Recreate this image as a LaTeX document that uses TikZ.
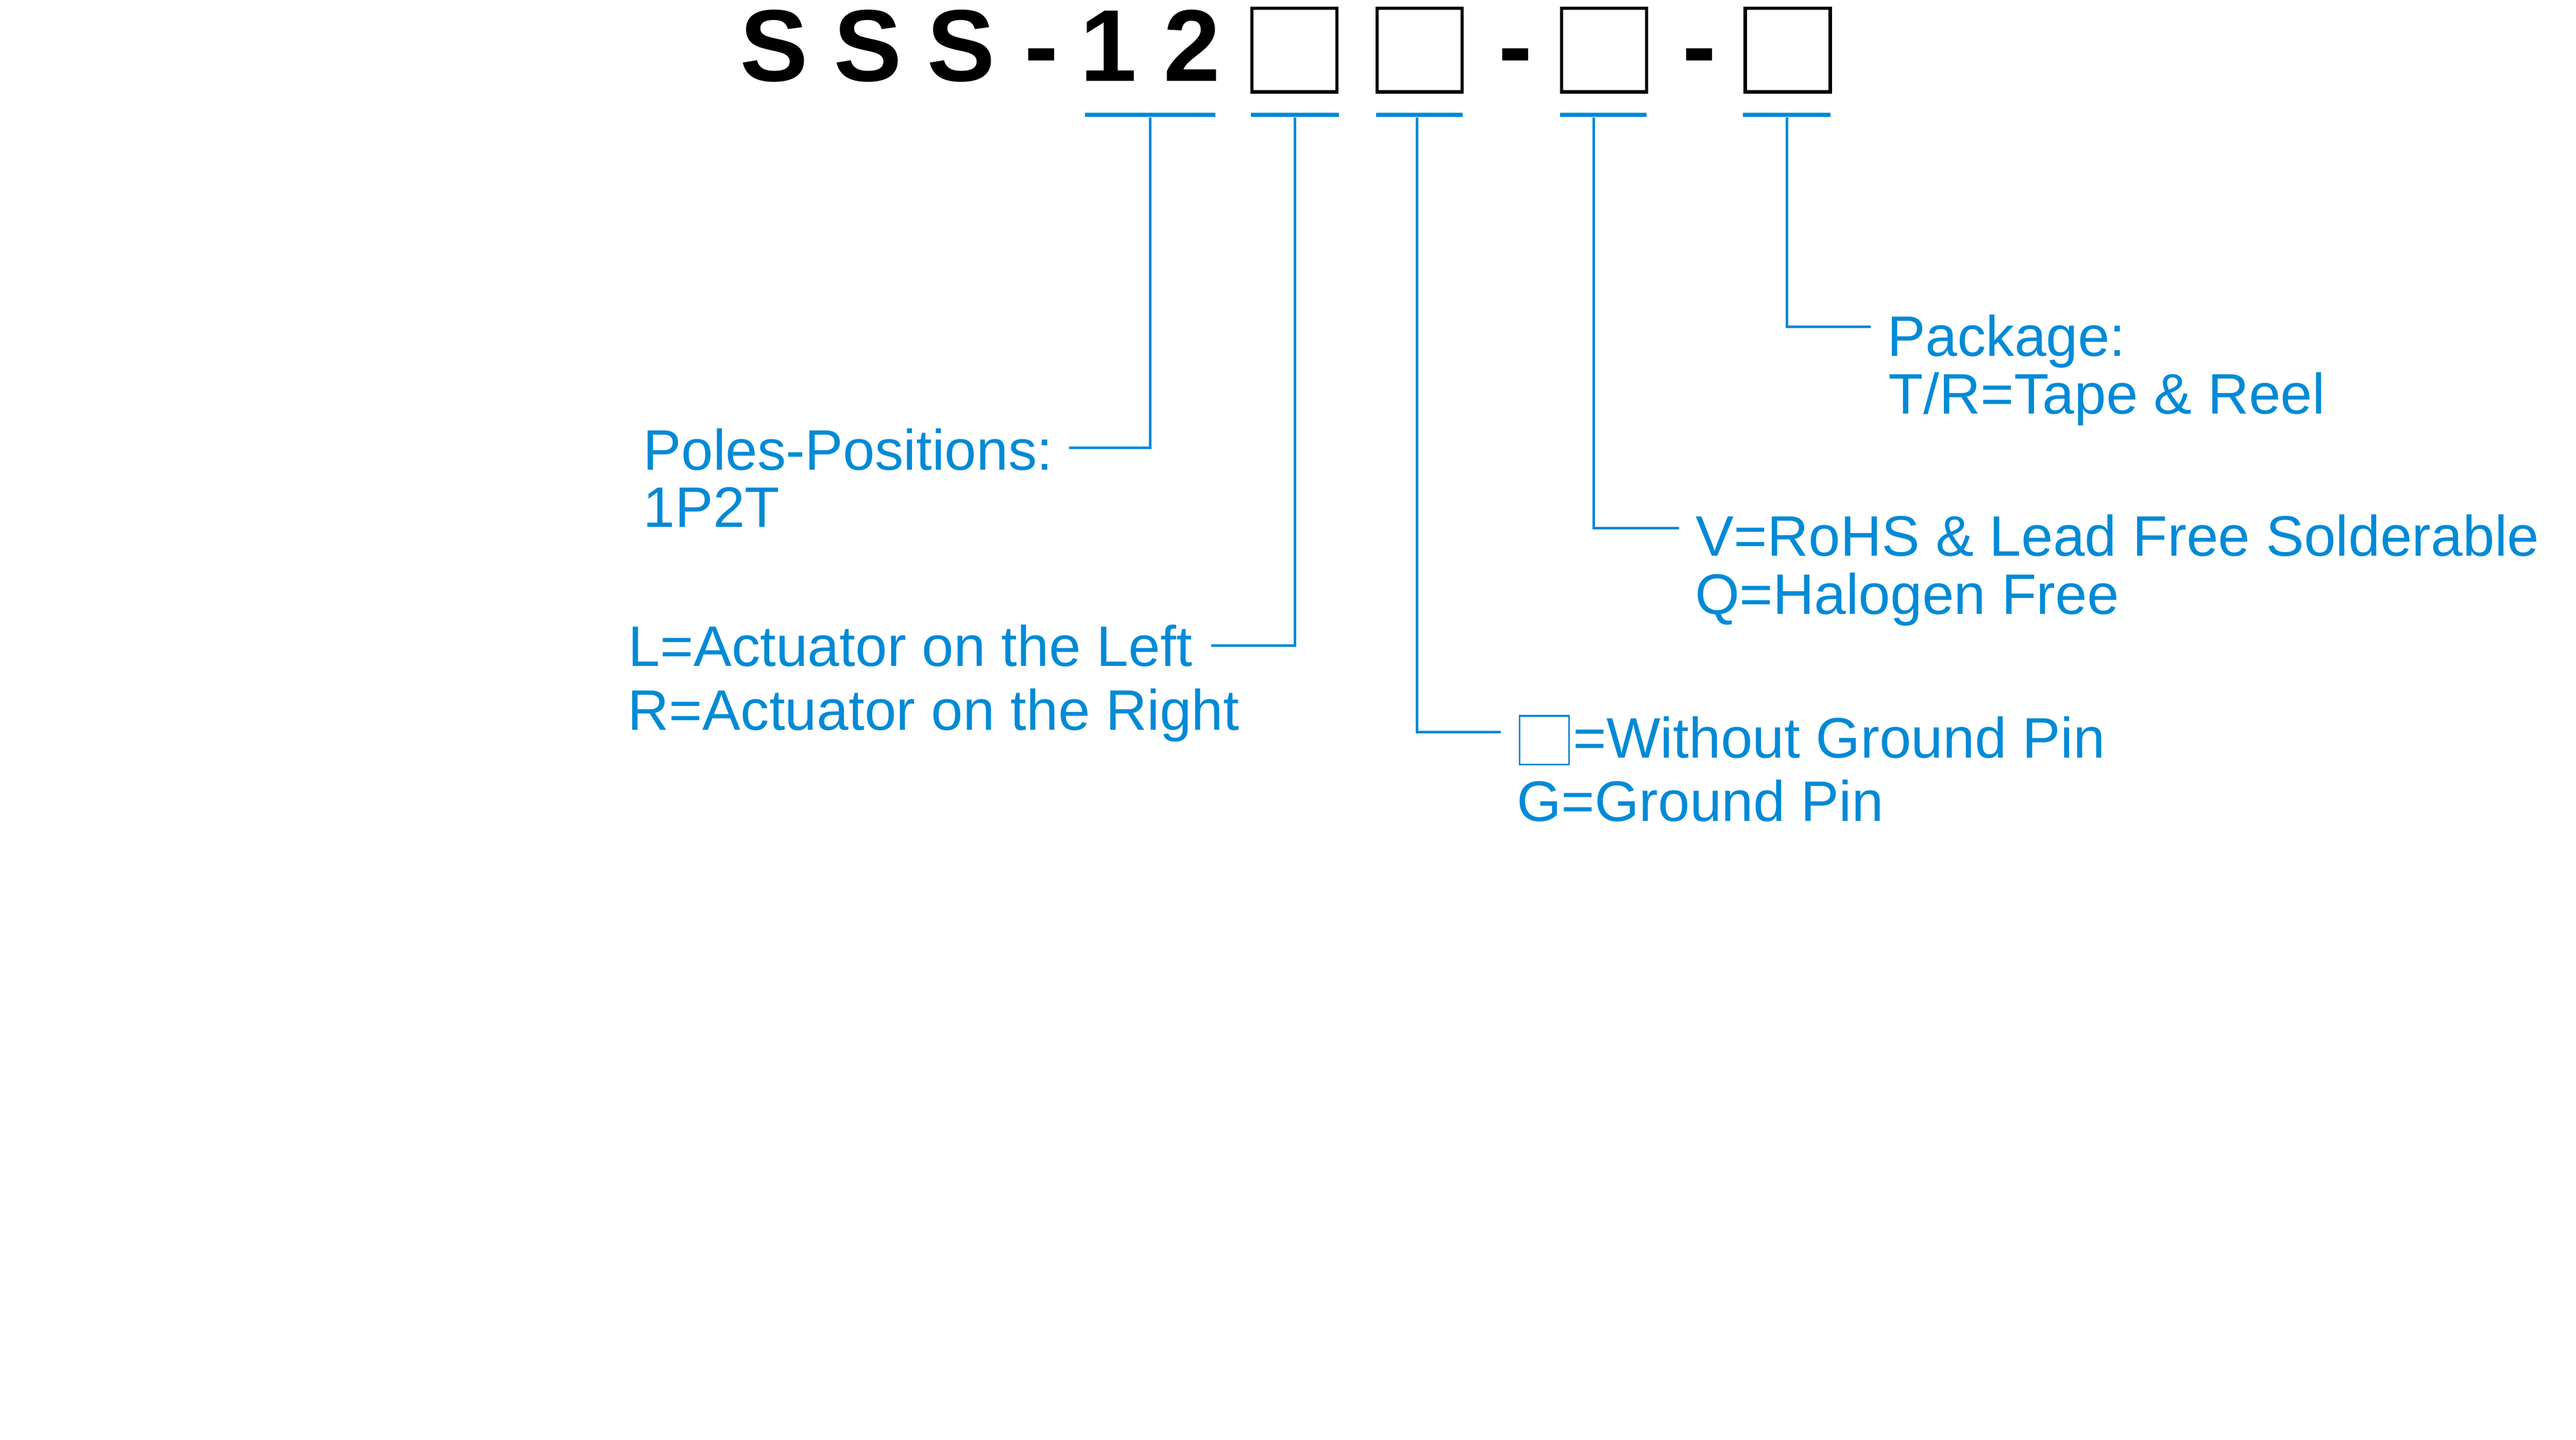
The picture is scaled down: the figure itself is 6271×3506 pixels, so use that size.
\documentclass[tikz,border=0pt]{standalone}
\usepackage{fontspec}
\usepackage{xcolor}
\usepackage{tikz}
\setmainfont{Liberation Sans}
\definecolor{pnblue}{RGB}{0,138,214}
\newcommand{\lblsize}{\fontsize{39.55pt}{39.55pt}\selectfont}
\newcommand{\ttlsize}{\fontsize{70.7pt}{70.7pt}\selectfont\bfseries}

\begin{document}
\begin{tikzpicture}[x=0.01cm,y=-0.01cm,
        ttl/.style={anchor=base, inner sep=0, font=\ttlsize},
        slot/.style={draw=black, line width=0.08cm, inner sep=0, minimum width=2.07cm, minimum height=2.04cm},
        uline/.style={fill=pnblue, inner sep=0, minimum height=0.1cm},
        lbl/.style={anchor=base west, inner sep=0, text=pnblue, font=\lblsize},
        conn/.style={draw=pnblue, line width=0.065cm}]
        \useasboundingbox (0,0) rectangle (6271,3506);
        \fill[white] (0,0) rectangle (6271,3506);

        % part number
        \node[ttl] (s1) at (1885,198) {S};
        \node[ttl] (s2) at (2113,198) {S};
        \node[ttl] (s3) at (2340,198) {S};
        \node[ttl] (dash1) at (2535,198) {-};
        \node[ttl] (one) at (2699,198) {1};
        \node[ttl] (two) at (2902,198) {2};
        \node[slot] (box1) at (3151,122) {};
        \node[slot] (box2) at (3456,122) {};
        \node[ttl] (dash2) at (3689,198) {-};
        \node[slot] (box3) at (3905,122) {};
        \node[ttl] (dash3) at (4137,198) {-};
        \node[slot] (box4) at (4352,122) {};

        % underlines
        \node[uline, minimum width=3.17cm] (u12) at (2800,280) {};
        \node[uline, minimum width=2.14cm] (u1) at (3152,280) {};
        \node[uline, minimum width=2.10cm] (u2) at (3455,280) {};
        \node[uline, minimum width=2.10cm] (u3) at (3903,280) {};
        \node[uline, minimum width=2.13cm] (u4) at (4350,280) {};

        % labels
        \node[lbl] (poles1) at (1565,1145) {Poles-Positions:};
        \node[lbl] (poles2) at (1565,1284) {1P2T};
        \node[lbl] (act1) at (1529,1622) {L=Actuator on the Left};
        \node[lbl] (act2) at (1528,1778) {R=Actuator on the Right};
        \node[draw=pnblue, line width=0.045cm, inner sep=0, minimum width=1.2cm, minimum height=1.19cm] (gnd0) at (3759.5,1802.5) {};
        \node[lbl] (gnd1) at (3829,1846) {=Without Ground Pin};
        \node[lbl] (gnd2) at (3692,2000) {G=Ground Pin};
        \node[lbl] (rohs1) at (4128,1354) {V=RoHS \& Lead Free Solderable};
        \node[lbl] (rohs2) at (4126,1495) {Q=Halogen Free};
        \node[lbl] (pkg1) at (4594,867) {Package:};
        \node[lbl] (pkg2) at (4597,1008) {T/R=Tape \& Reel};

        % connectors
        \coordinate (poles-end) at (2603,1091);
        \coordinate (act-end) at (2949,1572);
        \coordinate (gnd-end) at (3653,1783);
        \coordinate (rohs-end) at (4087,1286);
        \coordinate (pkg-end) at (4554,796);
        \draw[conn] (u12.south) |- (poles-end);
        \draw[conn] (u1.south) |- (act-end);
        \draw[conn] ([xshift=-0.05cm]u2.south) |- (gnd-end);
        \draw[conn] ([xshift=-0.23cm]u3.south) |- (rohs-end);
        \draw[conn] (u4.south) |- (pkg-end);
    \end{tikzpicture}
\end{document}
